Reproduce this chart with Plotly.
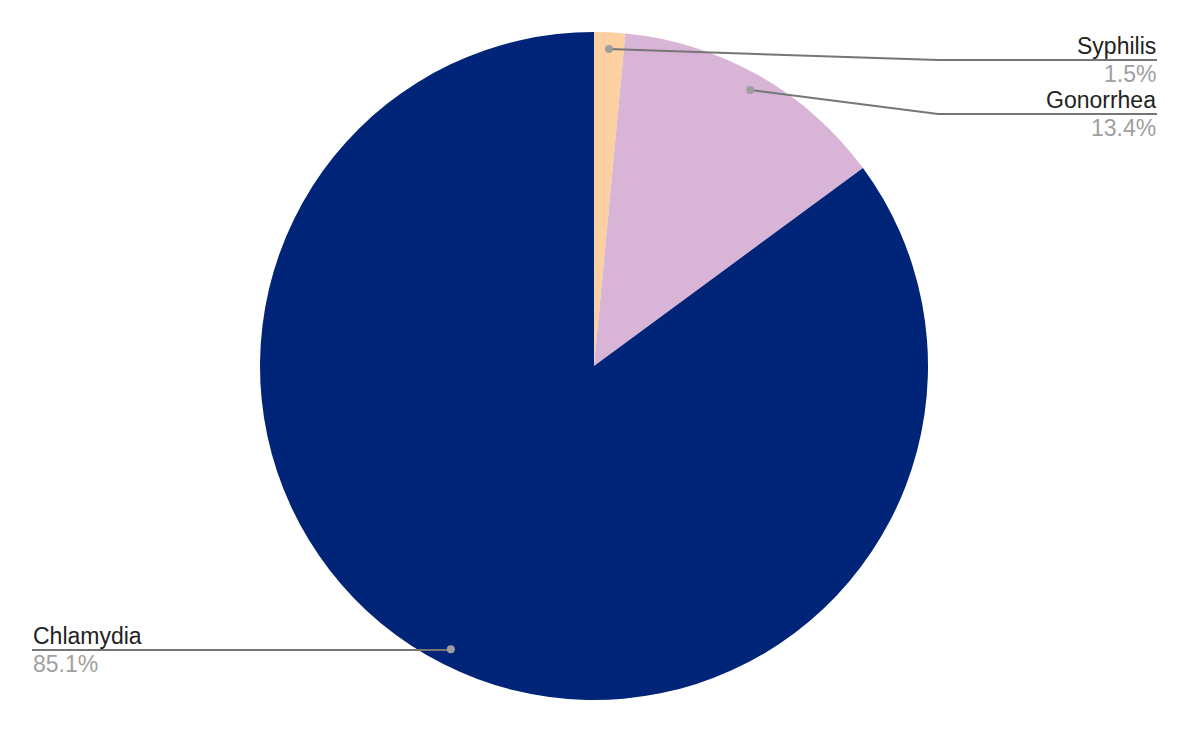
import math
import plotly.graph_objects as go

### data
labels = ["Syphilis", "Gonorrhea", "Chlamydia"]
shares = [1.5, 13.4, 85.1]
colors = ["#fdd0a2", "#d8b5d6", "#002477"]

W, H = 1189, 732
OFF = 8                     # page body margin shifts the figure
CX, CY, R = 594 - OFF, 366 - OFF, 334   # pie center / radius in px

### where each label sits (px): side, elbow x, line y, line end x
label_pos = {
    "Syphilis": dict(side="right", elbow=938, y=60, end=1157),
    "Gonorrhea": dict(side="right", elbow=938, y=114, end=1157),
    "Chlamydia": dict(side="left", elbow=None, y=650, end=32),
}


def px(x, y):
    return x / W, 1 - y / H


fig = go.Figure(go.Pie(
    labels=labels,
    values=shares,
    marker=dict(colors=colors, line=dict(width=0)),
    sort=False,
    direction="clockwise",
    rotation=0,
    textinfo="none",
    hoverinfo="label+percent",
    showlegend=False,
    domain=dict(x=[0, 2 * CX / W], y=[(H - CY - R) / H, (H - CY + R) / H]),
))

### leader lines + labels, anchor from slice mid angles
shapes, annos = [], []
total = sum(shares)
cum = 0
for name, v in zip(labels, shares):
    mid = (cum + v / 2) / total * 2 * math.pi
    cum += v
    ax = CX + 0.95 * R * math.sin(mid)
    ay = CY - 0.95 * R * math.cos(mid)
    p = label_pos[name]
    ly = p["y"] - OFF
    lx = p["end"] - OFF
    pts = [(ax, ay)]
    if p["elbow"] is not None:
        pts.append((p["elbow"] - OFF, ly))
    else:
        pts.append((ax, ly))
    pts.append((lx, ly))
    for (x0, y0), (x1, y1) in zip(pts[:-1], pts[1:]):
        a, b = px(x0, y0)
        c, d = px(x1, y1)
        shapes.append(dict(type="line", xref="paper", yref="paper",
                           x0=a, y0=b, x1=c, y1=d,
                           line=dict(color="#767676", width=2)))
    a, b = px(ax, ay)
    shapes.append(dict(type="circle", xref="paper", yref="paper",
                       x0=a - 4 / W, x1=a + 4 / W, y0=b - 4 / H, y1=b + 4 / H,
                       fillcolor="#9e9e9e", line=dict(width=0)))
    xa = "right" if p["side"] == "right" else "left"
    tx, ty = px(lx, ly)
    annos.append(dict(x=tx, y=ty, xref="paper", yref="paper",
                      text=name, showarrow=False, xanchor=xa, yanchor="bottom",
                      xshift=1 if xa == "right" else -1, yshift=-1,
                      font=dict(size=23, color="#222222")))
    annos.append(dict(x=tx, y=ty, xref="paper", yref="paper",
                      text=f"{v:.1f}%", showarrow=False, xanchor=xa, yanchor="top",
                      xshift=1 if xa == "right" else -1, yshift=1,
                      font=dict(size=23, color="#a0a0a0")))

fig.update_layout(
    width=W, height=H,
    margin=dict(t=0, l=0, r=0, b=0),
    paper_bgcolor="white",
    font=dict(family="Liberation Sans, Arial, sans-serif"),
    shapes=shapes,
    annotations=annos,
)

fig.write_html("out.html")
